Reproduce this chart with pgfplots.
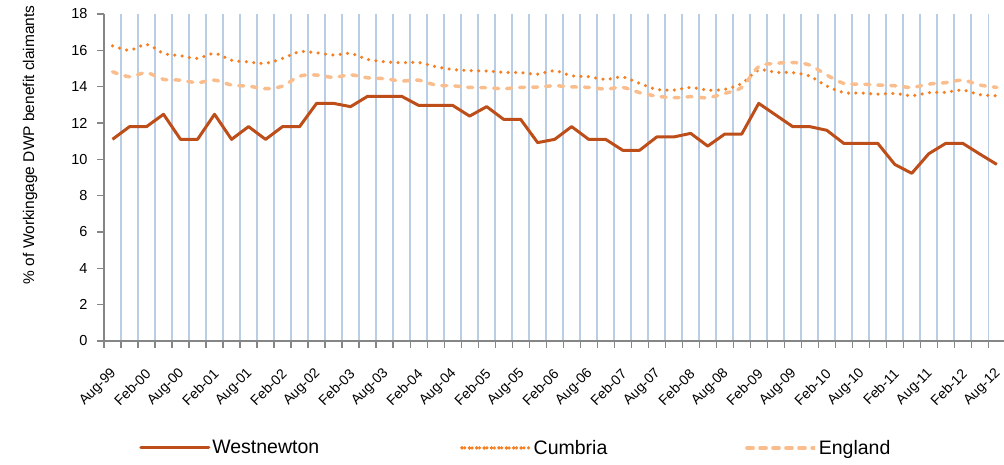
\documentclass[border=0pt]{standalone}
\usepackage{pgfplots}
\pgfplotsset{compat=1.18}
\usepackage{pgfplotstable}
\usepackage{fontspec}
\setmainfont{Liberation Sans}
\definecolor{wn}{RGB}{190,78,25}
\definecolor{cu}{RGB}{245,128,35}
\definecolor{en}{RGB}{250,190,142}
\definecolor{gridb}{RGB}{185,205,229}
\definecolor{axg}{RGB}{134,134,134}
\pgfplotstableread{
x W C E
0 11.10 16.25 14.82
1 11.80 16.00 14.55
2 11.80 16.33 14.77
3 12.48 15.83 14.40
4 11.10 15.70 14.36
5 11.10 15.56 14.22
6 12.48 15.83 14.36
7 11.10 15.46 14.09
8 11.80 15.36 14.03
9 11.10 15.28 13.89
10 11.80 15.56 14.03
11 11.80 15.92 14.58
12 13.08 15.87 14.64
13 13.08 15.74 14.51
14 12.90 15.83 14.65
15 13.47 15.50 14.49
16 13.47 15.37 14.44
17 13.47 15.32 14.31
18 12.97 15.33 14.36
19 12.97 15.10 14.09
20 12.97 14.95 14.05
21 12.38 14.88 13.96
22 12.90 14.86 13.94
23 12.20 14.79 13.89
24 12.20 14.77 13.96
25 10.92 14.69 13.98
26 11.10 14.88 14.05
27 11.80 14.60 13.99
28 11.10 14.55 13.96
29 11.10 14.40 13.87
30 10.50 14.53 13.96
31 10.50 14.18 13.67
32 11.23 13.85 13.48
33 11.23 13.81 13.39
34 11.43 13.96 13.45
35 10.73 13.81 13.39
36 11.39 13.85 13.63
37 11.39 14.18 13.96
38 13.08 14.91 15.10
39 12.44 14.79 15.28
40 11.80 14.77 15.33
41 11.80 14.58 15.19
42 11.60 14.03 14.64
43 10.88 13.67 14.18
44 10.88 13.65 14.14
45 10.88 13.59 14.09
46 9.72 13.63 14.05
47 9.23 13.50 13.96
48 10.31 13.67 14.14
49 10.88 13.69 14.22
50 10.88 13.81 14.36
51 10.29 13.56 14.09
52 9.72 13.50 13.96
}\datatable
\begin{document}
\begin{tikzpicture}
\begin{axis}[
  at={(104pt,123pt)}, anchor=south west,
  scale only axis, width=901.3pt, height=327pt,
  xmin=-0.5, xmax=52.5, ymin=0, ymax=18,
  axis x line*=bottom, axis y line*=left,
  axis line style={draw=axg, line width=1.3pt},
  tick align=outside,
  major tick length=0pt, minor tick length=7pt,
  every tick/.style={draw=axg, line width=1.2pt},
  xtick={0,2,...,52},
  xticklabels={Aug-99,Feb-00,Aug-00,Feb-01,Aug-01,Feb-02,Aug-02,Feb-03,Aug-03,Feb-04,Aug-04,Feb-05,Aug-05,Feb-06,Aug-06,Feb-07,Aug-07,Feb-08,Aug-08,Feb-09,Aug-09,Feb-10,Aug-10,Feb-11,Aug-11,Feb-12,Aug-12},
  minor xtick={-0.5,0.5,...,52.5},
  xminorgrids=true,
  minor grid style={draw=gridb, line width=1.6pt},
  ytick={0,2,...,18},
  minor ytick={0,2,...,18},
  /pgf/number format/assume math mode=true,
  y tick label style={font=\fontsize{14.5}{16}\selectfont, anchor=east, xshift=-13pt},
  x tick label style={font=\fontsize{14}{16}\selectfont, xshift=4pt, yshift=-28pt, rotate=45, anchor=east},
  every axis y label/.style={at={(axis description cs:-0.082,0.6)}, rotate=90, anchor=center},
  ylabel={\fontsize{15.5}{17}\selectfont \% of Workingage DWP benefit claimants},
  legend columns=3,
  legend style={at={(axis description cs:0.0389,-0.327)}, anchor=west, draw=none, fill=none, inner sep=0pt,
    font=\fontsize{19.5}{21}\selectfont,
    /tikz/column 2/.style={column sep=139pt},
    /tikz/column 4/.style={column sep=136pt}},
  legend image code/.code={\draw[#1] (0pt,0pt) -- (64pt,0pt); \path (0pt,0pt) rectangle (68pt,0pt);},
  clip=false,
]
\addplot[wn, line width=3pt, line join=round] table[x=x,y=W]{\datatable};
\addlegendentry{Westnewton}
\addplot[cu, line width=3.5pt, line cap=round, dash pattern=on 0pt off 7.4pt, smooth, tension=0.5] table[x=x,y=C]{\datatable};
\addlegendentry{Cumbria}
\addplot[en, line width=3.5pt, line cap=round, dash pattern=on 5pt off 8pt, smooth, tension=0.5] table[x=x,y=E]{\datatable};
\addlegendentry{England}
\end{axis}
\pgfresetboundingbox
\useasboundingbox (0,0) rectangle (1004pt,464pt);
\end{tikzpicture}
\end{document}
